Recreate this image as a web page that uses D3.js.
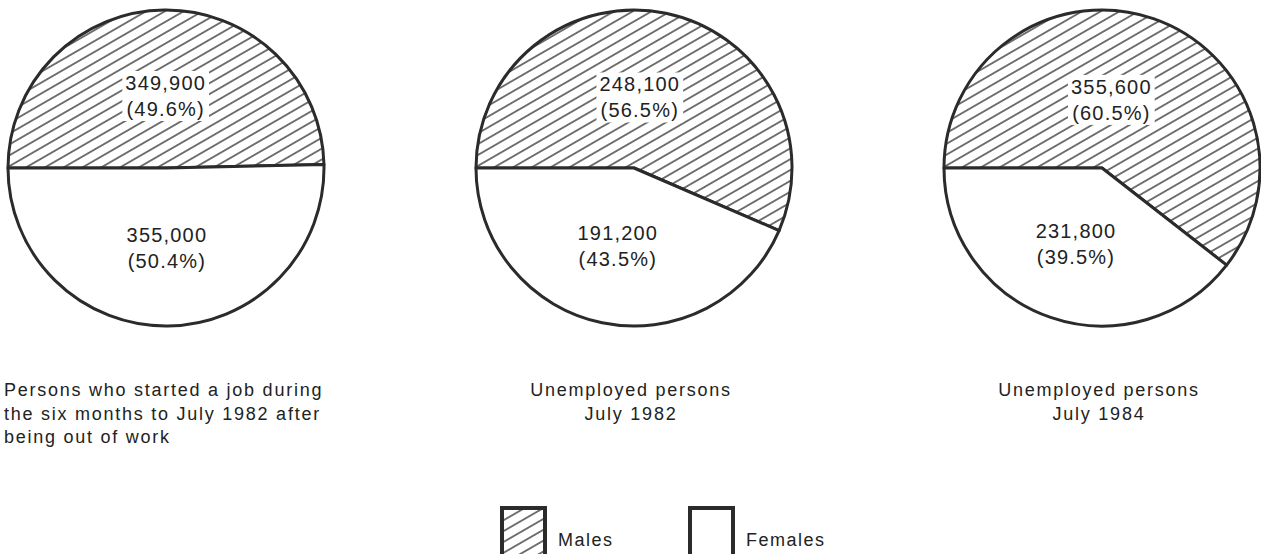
<!DOCTYPE html>
<html>
<head>
<meta charset="utf-8">
<script src="https://cdn.jsdelivr.net/npm/d3@7"></script>
<style>
  html, body { margin: 0; padding: 0; background: #fff; }
  svg { display: block; font-family: "Liberation Sans", Arial, sans-serif; }
</style>
</head>
<body>
<div class="holder"></div>
<script>
// data
var categories = ['Males', 'Females']
var maleCounts = [349900, 248100, 355600]
var femaleCounts = [355000, 191200, 231800]
var malePct = [49.6, 56.5, 60.5]
var femalePct = [50.4, 43.5, 39.5]
var captions = [
  ['Persons who started a job during', 'the six months to July 1982 after', 'being out of work'],
  ['Unemployed persons', 'July 1982'],
  ['Unemployed persons', 'July 1984']
]

var W = 1261, H = 554
var radius = 158, cy = 168
var ink = '#2b2b2b'

var svg = d3.select('.holder')
  .append('svg')
  .attr('width', W)
  .attr('height', H)

// diagonal hatching for the males slice
var defs = svg.append('defs')
defs.append('pattern')
  .attr('id', 'hatch')
  .attr('patternUnits', 'userSpaceOnUse')
  .attr('width', 10)
  .attr('height', 9.4)
  .attr('patternTransform', 'rotate(-30)')
  .append('line')
  .attr('x1', 0).attr('x2', 10)
  .attr('y1', 4.7).attr('y2', 4.7)
  .attr('stroke', ink)
  .attr('stroke-width', 1.3)

var fills = { Males: 'url(#hatch)', Females: '#fff' }

var xPos = d3.scalePoint()
  .domain(d3.range(maleCounts.length))
  .range([166, 1102])

var pie = d3.pie()
  .sort(null)
  .value(function(d) { return d.value })
  .startAngle(-Math.PI / 2)
  .endAngle(Math.PI * 1.5)

var arc = d3.arc().innerRadius(0).outerRadius(radius)
var maleLabelArc = d3.arc().innerRadius(72).outerRadius(72)
var femaleLabelArc = d3.arc().innerRadius(80).outerRadius(80)

var fmt = d3.format(',')

maleCounts.forEach(function(m, i) {
  var rows = [
    { key: categories[0], value: m, pct: malePct[i] },
    { key: categories[1], value: femaleCounts[i], pct: femalePct[i] }
  ]
  var g = svg.append('g')
    .attr('class', 'pie')
    .attr('transform', 'translate(' + xPos(i) + ',' + cy + ')')

  var arcs = pie(rows)

  g.selectAll('path')
    .data(arcs)
    .enter()
    .append('path')
    .attr('d', arc)
    .attr('fill', function(d) { return fills[d.data.key] })
    .attr('stroke', ink)
    .attr('stroke-width', 3)
    .attr('stroke-linejoin', 'round')

  arcs.forEach(function(d) {
    var c
    if (d.data.key === 'Males') {
      c = maleLabelArc.centroid(d)
      c[0] = c[0] * 0.4
    } else {
      c = femaleLabelArc.centroid(d)
    }
    var lg = g.append('g').attr('transform', 'translate(' + c[0] + ',' + c[1] + ')')
    var bg = lg.append('rect').attr('fill', '#fff')
    var t = lg.append('text')
      .attr('text-anchor', 'middle')
      .attr('font-size', 20)
      .attr('letter-spacing', 1.2)
      .attr('fill', '#222')
    t.append('tspan').attr('x', 0).attr('y', -6).text(fmt(d.data.value))
    t.append('tspan').attr('x', 0).attr('y', 20).text('(' + d.data.pct + '%)')
    if (d.data.key === 'Males') {
      var b = t.node().getBBox()
      bg.attr('x', b.x - 3).attr('y', b.y - 1)
        .attr('width', b.width + 6).attr('height', b.height + 2)
    } else {
      bg.remove()
    }
  })

  // captions under each pie
  var leftAlign = i === 0
  var cap = svg.append('text')
    .attr('font-size', 18)
    .attr('letter-spacing', 1.75)
    .attr('fill', '#222')
    .attr('text-anchor', leftAlign ? 'start' : 'middle')
  captions[i].forEach(function(line, j) {
    cap.append('tspan')
      .attr('x', leftAlign ? xPos(i) - radius - 4 : xPos(i) - 3)
      .attr('y', 396 + j * 23.5)
      .text(line)
  })
})

// legend
var legendX = d3.scalePoint().domain(categories).range([500, 688])
var legend = svg.append('g').attr('id', 'legend')
var item = legend.selectAll('g')
  .data(categories)
  .enter()
  .append('g')
  .attr('transform', function(d) { return 'translate(' + legendX(d) + ',506)' })

item.append('rect')
  .attr('x', 2).attr('y', 2)
  .attr('width', 43).attr('height', 60)
  .attr('fill', function(d) { return fills[d] })
  .attr('stroke', ink)
  .attr('stroke-width', 4)

item.append('text')
  .attr('x', 58)
  .attr('y', 40)
  .attr('font-size', 18)
  .attr('letter-spacing', 1.5)
  .attr('fill', '#222')
  .text(function(d) { return d })
</script>
</body>
</html>
